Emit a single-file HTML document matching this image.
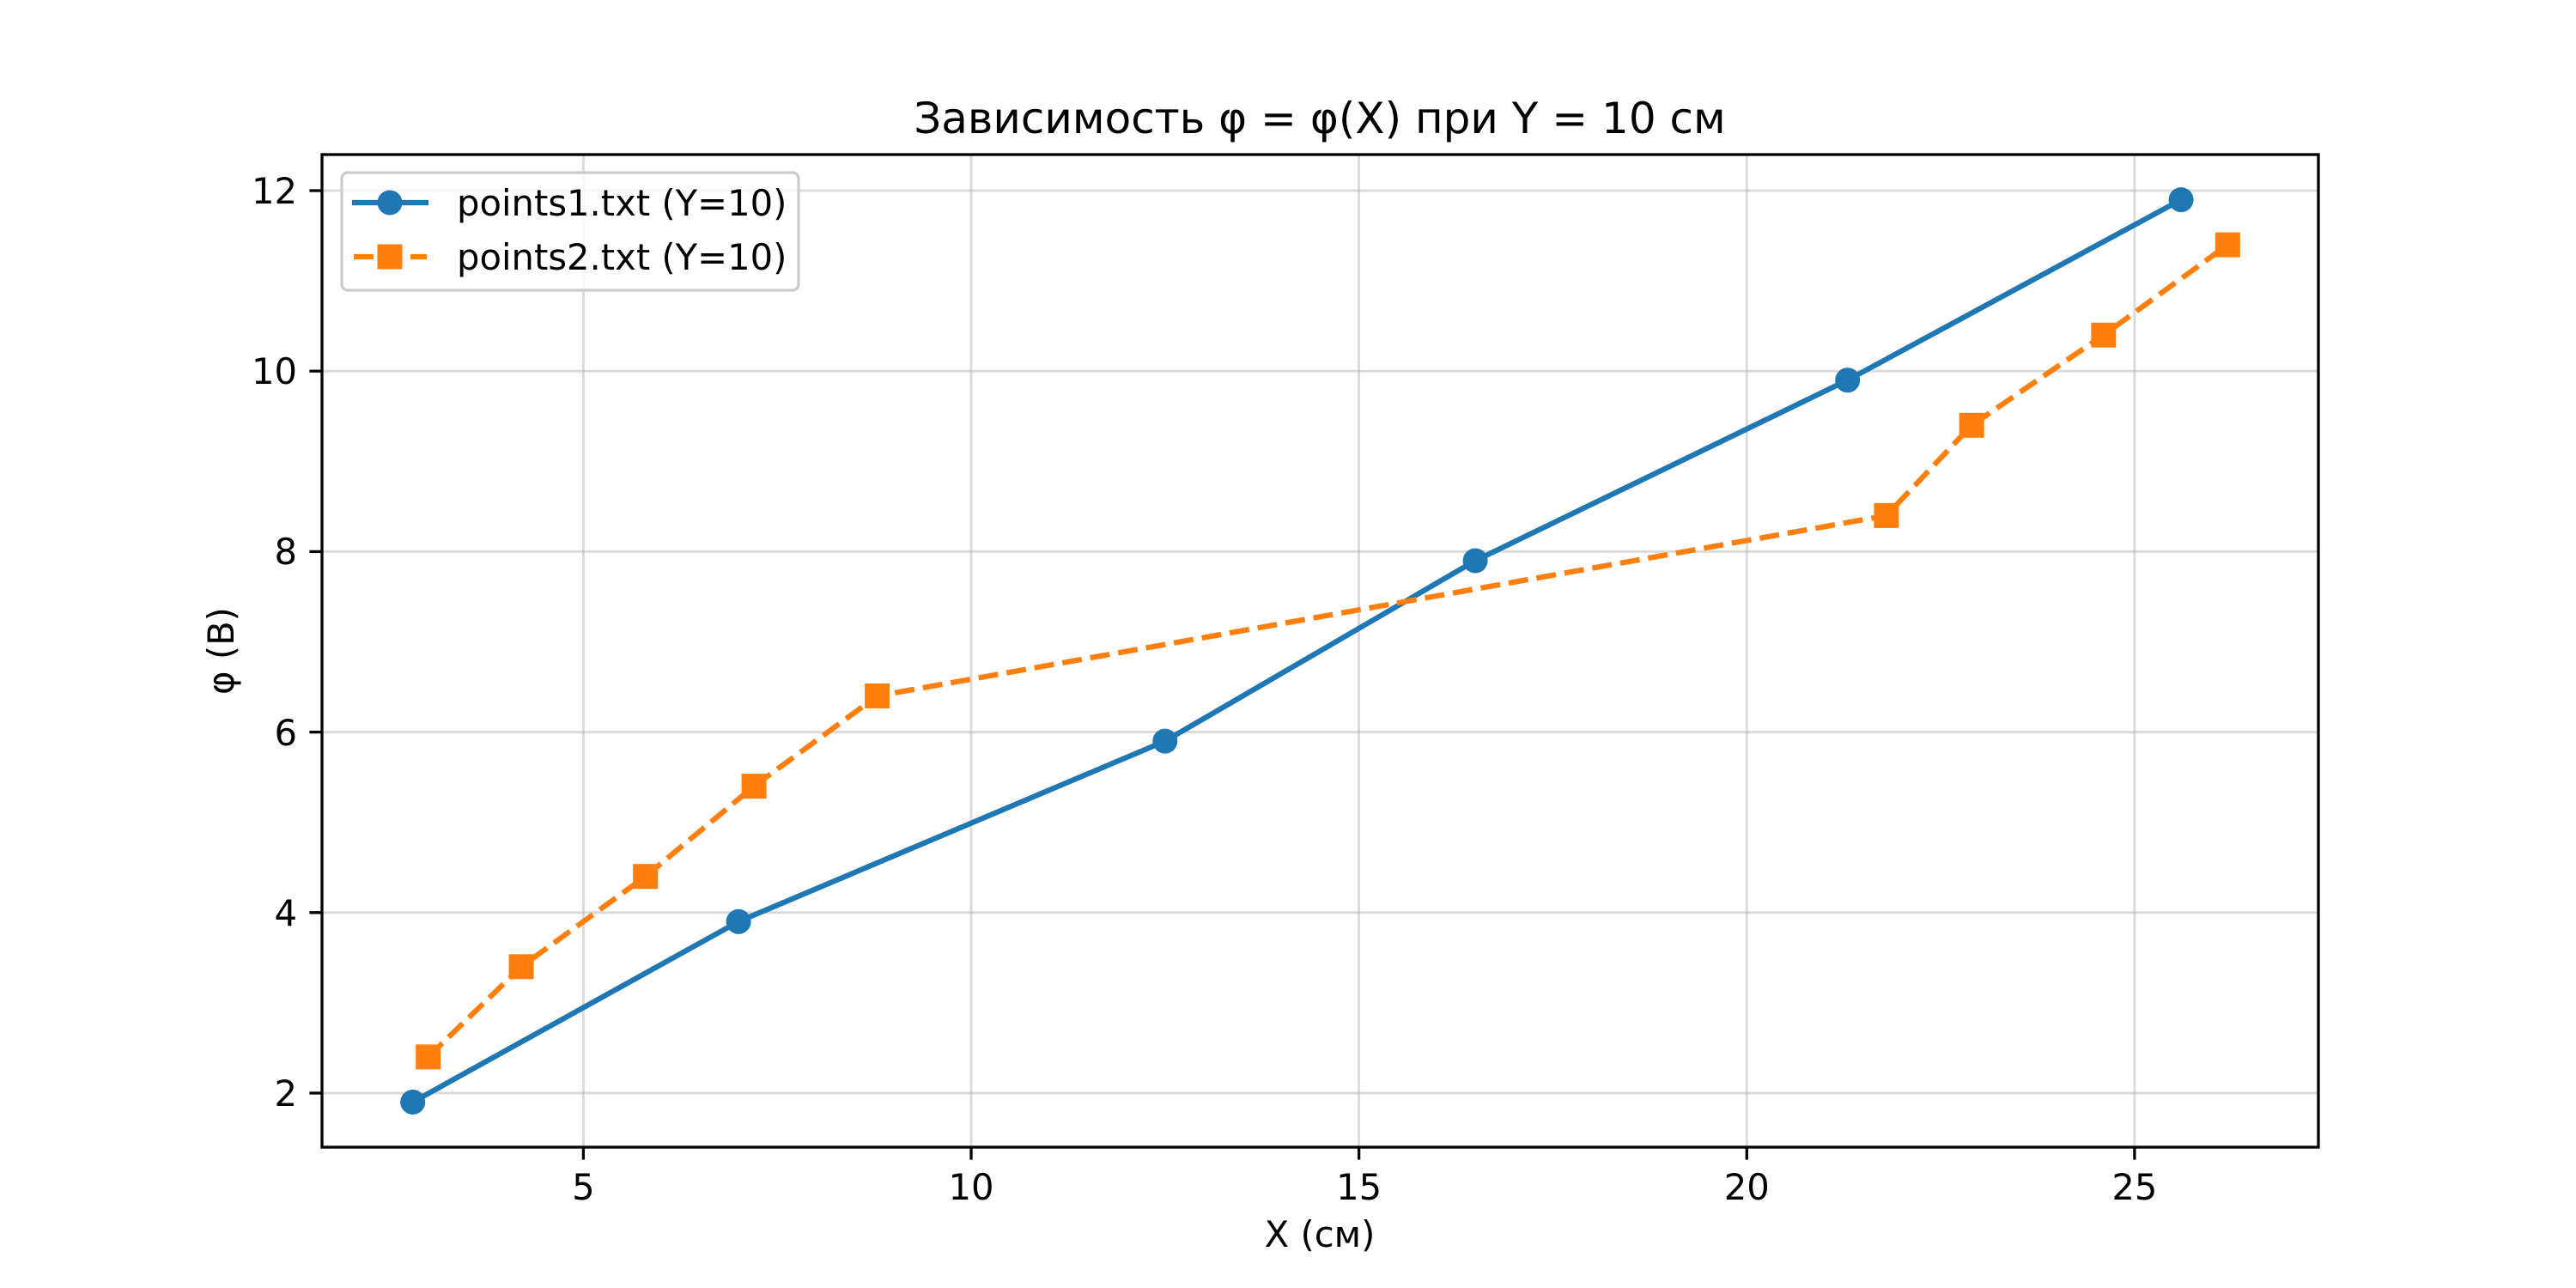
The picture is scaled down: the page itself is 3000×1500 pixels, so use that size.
<!DOCTYPE html>
<html><head><meta charset="utf-8"><style>html,body{margin:0;padding:0;background:#fff}svg{display:block}</style></head>
<body>
<svg width="3000" height="1500" viewBox="0 0 3000 1500" xmlns="http://www.w3.org/2000/svg" font-family="DejaVu Sans, Liberation Sans, sans-serif">
<rect width="3000" height="1500" fill="#fff"/>
<g stroke="#b0b0b0" stroke-opacity="0.45" stroke-width="3">
<line x1="679.4" y1="180" x2="679.4" y2="1336"/><line x1="1131" y1="180" x2="1131" y2="1336"/><line x1="1582.6" y1="180" x2="1582.6" y2="1336"/><line x1="2034.3" y1="180" x2="2034.3" y2="1336"/><line x1="2485.9" y1="180" x2="2485.9" y2="1336"/>
<line x1="375" y1="1273" x2="2700" y2="1273"/><line x1="375" y1="1062.8" x2="2700" y2="1062.8"/><line x1="375" y1="852.6" x2="2700" y2="852.6"/><line x1="375" y1="642.4" x2="2700" y2="642.4"/><line x1="375" y1="432.2" x2="2700" y2="432.2"/><line x1="375" y1="222" x2="2700" y2="222"/>
</g>
<polyline fill="none" stroke="#1f77b4" stroke-width="6.25" stroke-linejoin="round" points="480.7,1283.5 860.1,1073.3 1356.8,863.1 1718.1,653 2151.7,442.7 2540.1,232.6"/>
<g fill="#1f77b4"><circle cx="480.7" cy="1283.5" r="14.5"/><circle cx="860.1" cy="1073.3" r="14.5"/><circle cx="1356.8" cy="863.1" r="14.5"/><circle cx="1718.1" cy="653" r="14.5"/><circle cx="2151.7" cy="442.7" r="14.5"/><circle cx="2540.1" cy="232.6" r="14.5"/></g>
<polyline fill="none" stroke="#ff7f0e" stroke-width="6.25" stroke-dasharray="23 10" points="498.7,1230.9 607.1,1125.8 751.7,1020.7 878.1,915.6 1021.6,810.5 2196.9,600.4 2296.2,495.3 2449.8,390.2 2594.3,285.1"/>
<g fill="#ff7f0e"><rect x="484.2" y="1216.4" width="29" height="29"/><rect x="592.6" y="1111.3" width="29" height="29"/><rect x="737.2" y="1006.2" width="29" height="29"/><rect x="863.6" y="901.1" width="29" height="29"/><rect x="1007.1" y="796" width="29" height="29"/><rect x="2182.4" y="585.9" width="29" height="29"/><rect x="2281.7" y="480.8" width="29" height="29"/><rect x="2435.3" y="375.7" width="29" height="29"/><rect x="2579.8" y="270.6" width="29" height="29"/></g>
<rect x="375" y="180" width="2325" height="1156" fill="none" stroke="#000" stroke-width="3.3"/>
<g stroke="#000" stroke-width="3.3">
<line x1="679.4" y1="1336" x2="679.4" y2="1350.6"/><line x1="1131" y1="1336" x2="1131" y2="1350.6"/><line x1="1582.6" y1="1336" x2="1582.6" y2="1350.6"/><line x1="2034.3" y1="1336" x2="2034.3" y2="1350.6"/><line x1="2485.9" y1="1336" x2="2485.9" y2="1350.6"/>
<line x1="360.4" y1="1273" x2="375" y2="1273"/><line x1="360.4" y1="1062.8" x2="375" y2="1062.8"/><line x1="360.4" y1="852.6" x2="375" y2="852.6"/><line x1="360.4" y1="642.4" x2="375" y2="642.4"/><line x1="360.4" y1="432.2" x2="375" y2="432.2"/><line x1="360.4" y1="222" x2="375" y2="222"/>
</g>
<g font-size="41.7" fill="#000" text-anchor="middle">
<text x="679.4" y="1397">5</text><text x="1131" y="1397">10</text><text x="1582.6" y="1397">15</text><text x="2034.3" y="1397">20</text><text x="2485.9" y="1397">25</text>
</g>
<g font-size="41.7" fill="#000" text-anchor="end">
<text x="346" y="1288">2</text><text x="346" y="1078">4</text><text x="346" y="868">6</text><text x="346" y="657">8</text><text x="346" y="447">10</text><text x="346" y="237">12</text>
</g>
<text x="1537" y="1452" font-size="41.7" text-anchor="middle">X (см)</text>
<text transform="translate(272,758) rotate(-90)" font-size="41.7" text-anchor="middle">φ (B)</text>
<text x="1537" y="155" font-size="50" text-anchor="middle">Зависимость φ = φ(X) при Y = 10 см</text>
<rect x="398" y="201" width="532" height="137" rx="7" fill="#fff" fill-opacity="0.8" stroke="#cccccc" stroke-width="3.3"/>
<line x1="410" y1="236" x2="499" y2="236" stroke="#1f77b4" stroke-width="6.25"/>
<circle cx="454" cy="236" r="14.5" fill="#1f77b4"/>
<line x1="412" y1="299" x2="497" y2="299" stroke="#ff7f0e" stroke-width="6.25" stroke-dasharray="23 10"/>
<rect x="439.5" y="284.5" width="29" height="29" fill="#ff7f0e"/>
<text x="532" y="251" font-size="41.7">points1.txt (Y=10)</text>
<text x="532" y="314" font-size="41.7">points2.txt (Y=10)</text>
</svg>
</body></html>
